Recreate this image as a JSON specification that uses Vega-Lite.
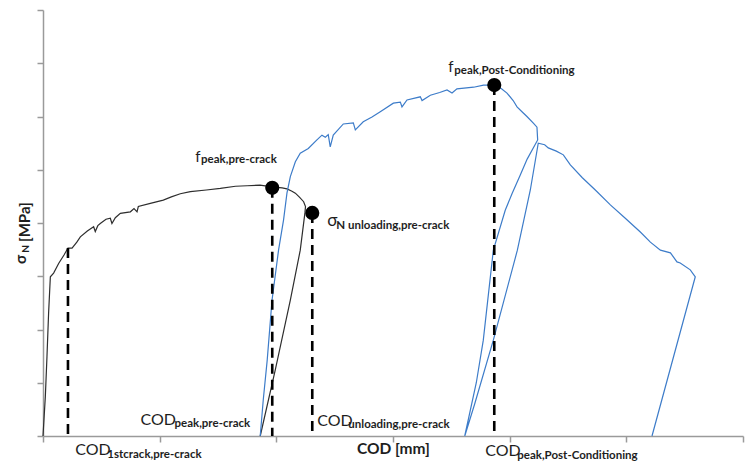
{
  "$schema": "https://vega.github.io/schema/vega-lite/v6.json",
  "width": 700,
  "height": 426,
  "autosize": {"type": "none"},
  "padding": {"left": 43, "top": 10, "right": 4, "bottom": 37},
  "background": "white",
  "config": {"view": {"stroke": null}, "font": "Lato"},
  "datasets": {
    "curves": [
      {"series": "pre-crack", "i": 0, "cod": 0, "sigma": 0},
      {"series": "pre-crack", "i": 1, "cod": 0.020, "sigma": 0.74},
      {"series": "pre-crack", "i": 2, "cod": 0.034, "sigma": 1.49},
      {"series": "pre-crack", "i": 3, "cod": 0.048, "sigma": 2.31},
      {"series": "pre-crack", "i": 4, "cod": 0.063, "sigma": 2.99},
      {"series": "pre-crack", "i": 5, "cod": 0.091, "sigma": 3.06},
      {"series": "pre-crack", "i": 6, "cod": 0.134, "sigma": 3.24},
      {"series": "pre-crack", "i": 7, "cod": 0.180, "sigma": 3.40},
      {"series": "pre-crack", "i": 8, "cod": 0.214, "sigma": 3.53},
      {"series": "pre-crack", "i": 9, "cod": 0.249, "sigma": 3.53},
      {"series": "pre-crack", "i": 10, "cod": 0.290, "sigma": 3.64},
      {"series": "pre-crack", "i": 11, "cod": 0.320, "sigma": 3.74},
      {"series": "pre-crack", "i": 12, "cod": 0.380, "sigma": 3.85},
      {"series": "pre-crack", "i": 13, "cod": 0.434, "sigma": 3.93},
      {"series": "pre-crack", "i": 14, "cod": 0.448, "sigma": 3.84},
      {"series": "pre-crack", "i": 15, "cod": 0.470, "sigma": 3.95},
      {"series": "pre-crack", "i": 16, "cod": 0.491, "sigma": 3.99},
      {"series": "pre-crack", "i": 17, "cod": 0.540, "sigma": 4.07},
      {"series": "pre-crack", "i": 18, "cod": 0.577, "sigma": 4.09},
      {"series": "pre-crack", "i": 19, "cod": 0.591, "sigma": 3.99},
      {"series": "pre-crack", "i": 20, "cod": 0.620, "sigma": 4.10},
      {"series": "pre-crack", "i": 21, "cod": 0.663, "sigma": 4.18},
      {"series": "pre-crack", "i": 22, "cod": 0.749, "sigma": 4.21},
      {"series": "pre-crack", "i": 23, "cod": 0.780, "sigma": 4.27},
      {"series": "pre-crack", "i": 24, "cod": 0.806, "sigma": 4.21},
      {"series": "pre-crack", "i": 25, "cod": 0.817, "sigma": 4.31},
      {"series": "pre-crack", "i": 26, "cod": 0.920, "sigma": 4.37},
      {"series": "pre-crack", "i": 27, "cod": 1.031, "sigma": 4.43},
      {"series": "pre-crack", "i": 28, "cod": 1.100, "sigma": 4.49},
      {"series": "pre-crack", "i": 29, "cod": 1.177, "sigma": 4.55},
      {"series": "pre-crack", "i": 30, "cod": 1.263, "sigma": 4.59},
      {"series": "pre-crack", "i": 31, "cod": 1.400, "sigma": 4.62},
      {"series": "pre-crack", "i": 32, "cod": 1.520, "sigma": 4.65},
      {"series": "pre-crack", "i": 33, "cod": 1.650, "sigma": 4.69},
      {"series": "pre-crack", "i": 34, "cod": 1.749, "sigma": 4.70},
      {"series": "pre-crack", "i": 35, "cod": 1.860, "sigma": 4.71},
      {"series": "pre-crack", "i": 36, "cod": 1.965, "sigma": 4.68},
      {"series": "pre-crack", "i": 37, "cod": 2.050, "sigma": 4.66},
      {"series": "pre-crack", "i": 38, "cod": 2.091, "sigma": 4.64},
      {"series": "pre-crack", "i": 39, "cod": 2.130, "sigma": 4.60},
      {"series": "pre-crack", "i": 40, "cod": 2.163, "sigma": 4.56},
      {"series": "pre-crack", "i": 41, "cod": 2.200, "sigma": 4.48},
      {"series": "pre-crack", "i": 42, "cod": 2.234, "sigma": 4.40},
      {"series": "pre-crack", "i": 43, "cod": 2.250, "sigma": 4.31},
      {"series": "pre-crack", "i": 44, "cod": 2.245, "sigma": 4.19},
      {"series": "pre-crack", "i": 45, "cod": 2.205, "sigma": 3.49},
      {"series": "pre-crack", "i": 46, "cod": 2.120, "sigma": 2.55},
      {"series": "pre-crack", "i": 47, "cod": 1.991, "sigma": 1.24},
      {"series": "pre-crack", "i": 48, "cod": 1.862, "sigma": 0},
      {"series": "post-conditioning", "i": 0, "cod": 1.862, "sigma": 0},
      {"series": "post-conditioning", "i": 1, "cod": 1.888, "sigma": 0.68},
      {"series": "post-conditioning", "i": 2, "cod": 1.922, "sigma": 1.43},
      {"series": "post-conditioning", "i": 3, "cod": 1.963, "sigma": 2.55},
      {"series": "post-conditioning", "i": 4, "cod": 2.019, "sigma": 3.49},
      {"series": "post-conditioning", "i": 5, "cod": 2.062, "sigma": 4.06},
      {"series": "post-conditioning", "i": 6, "cod": 2.091, "sigma": 4.56},
      {"series": "post-conditioning", "i": 7, "cod": 2.120, "sigma": 4.87},
      {"series": "post-conditioning", "i": 8, "cod": 2.163, "sigma": 5.15},
      {"series": "post-conditioning", "i": 9, "cod": 2.205, "sigma": 5.31},
      {"series": "post-conditioning", "i": 10, "cod": 2.274, "sigma": 5.40},
      {"series": "post-conditioning", "i": 11, "cod": 2.348, "sigma": 5.56},
      {"series": "post-conditioning", "i": 12, "cod": 2.391, "sigma": 5.65},
      {"series": "post-conditioning", "i": 13, "cod": 2.420, "sigma": 5.61},
      {"series": "post-conditioning", "i": 14, "cod": 2.445, "sigma": 5.66},
      {"series": "post-conditioning", "i": 15, "cod": 2.462, "sigma": 5.43},
      {"series": "post-conditioning", "i": 16, "cod": 2.488, "sigma": 5.65},
      {"series": "post-conditioning", "i": 17, "cod": 2.574, "sigma": 5.86},
      {"series": "post-conditioning", "i": 18, "cod": 2.660, "sigma": 5.88},
      {"series": "post-conditioning", "i": 19, "cod": 2.677, "sigma": 5.75},
      {"series": "post-conditioning", "i": 20, "cod": 2.745, "sigma": 5.90},
      {"series": "post-conditioning", "i": 21, "cod": 2.820, "sigma": 5.99},
      {"series": "post-conditioning", "i": 22, "cod": 2.891, "sigma": 6.09},
      {"series": "post-conditioning", "i": 23, "cod": 3.003, "sigma": 6.25},
      {"series": "post-conditioning", "i": 24, "cod": 3.063, "sigma": 6.27},
      {"series": "post-conditioning", "i": 25, "cod": 3.077, "sigma": 6.18},
      {"series": "post-conditioning", "i": 26, "cod": 3.120, "sigma": 6.31},
      {"series": "post-conditioning", "i": 27, "cod": 3.234, "sigma": 6.37},
      {"series": "post-conditioning", "i": 28, "cod": 3.249, "sigma": 6.30},
      {"series": "post-conditioning", "i": 29, "cod": 3.320, "sigma": 6.40},
      {"series": "post-conditioning", "i": 30, "cod": 3.400, "sigma": 6.45},
      {"series": "post-conditioning", "i": 31, "cod": 3.463, "sigma": 6.50},
      {"series": "post-conditioning", "i": 32, "cod": 3.506, "sigma": 6.44},
      {"series": "post-conditioning", "i": 33, "cod": 3.548, "sigma": 6.52},
      {"series": "post-conditioning", "i": 34, "cod": 3.691, "sigma": 6.55},
      {"series": "post-conditioning", "i": 35, "cod": 3.776, "sigma": 6.59},
      {"series": "post-conditioning", "i": 36, "cod": 3.868, "sigma": 6.59},
      {"series": "post-conditioning", "i": 37, "cod": 3.930, "sigma": 6.52},
      {"series": "post-conditioning", "i": 38, "cod": 3.977, "sigma": 6.44},
      {"series": "post-conditioning", "i": 39, "cod": 4.030, "sigma": 6.30},
      {"series": "post-conditioning", "i": 40, "cod": 4.063, "sigma": 6.18},
      {"series": "post-conditioning", "i": 41, "cod": 4.110, "sigma": 6.08},
      {"series": "post-conditioning", "i": 42, "cod": 4.148, "sigma": 6.00},
      {"series": "post-conditioning", "i": 43, "cod": 4.205, "sigma": 5.87},
      {"series": "post-conditioning", "i": 44, "cod": 4.234, "sigma": 5.80},
      {"series": "post-conditioning", "i": 45, "cod": 4.240, "sigma": 5.56},
      {"series": "post-conditioning", "i": 46, "cod": 4.150, "sigma": 5.20},
      {"series": "post-conditioning", "i": 47, "cod": 4.091, "sigma": 4.90},
      {"series": "post-conditioning", "i": 48, "cod": 4.020, "sigma": 4.55},
      {"series": "post-conditioning", "i": 49, "cod": 3.962, "sigma": 4.24},
      {"series": "post-conditioning", "i": 50, "cod": 3.860, "sigma": 3.49},
      {"series": "post-conditioning", "i": 51, "cod": 3.774, "sigma": 1.80},
      {"series": "post-conditioning", "i": 52, "cod": 3.714, "sigma": 1.00},
      {"series": "post-conditioning", "i": 53, "cod": 3.615, "sigma": 0},
      {"series": "post-conditioning", "i": 54, "cod": 3.700, "sigma": 0.60},
      {"series": "post-conditioning", "i": 55, "cod": 3.860, "sigma": 1.80},
      {"series": "post-conditioning", "i": 56, "cod": 4.066, "sigma": 3.49},
      {"series": "post-conditioning", "i": 57, "cod": 4.177, "sigma": 4.62},
      {"series": "post-conditioning", "i": 58, "cod": 4.245, "sigma": 5.50},
      {"series": "post-conditioning", "i": 59, "cod": 4.300, "sigma": 5.47},
      {"series": "post-conditioning", "i": 60, "cod": 4.331, "sigma": 5.41},
      {"series": "post-conditioning", "i": 61, "cod": 4.400, "sigma": 5.35},
      {"series": "post-conditioning", "i": 62, "cod": 4.460, "sigma": 5.28},
      {"series": "post-conditioning", "i": 63, "cod": 4.520, "sigma": 5.09},
      {"series": "post-conditioning", "i": 64, "cod": 4.623, "sigma": 4.85},
      {"series": "post-conditioning", "i": 65, "cod": 4.734, "sigma": 4.62},
      {"series": "post-conditioning", "i": 66, "cod": 4.863, "sigma": 4.34},
      {"series": "post-conditioning", "i": 67, "cod": 4.991, "sigma": 4.09},
      {"series": "post-conditioning", "i": 68, "cod": 5.120, "sigma": 3.83},
      {"series": "post-conditioning", "i": 69, "cod": 5.206, "sigma": 3.64},
      {"series": "post-conditioning", "i": 70, "cod": 5.292, "sigma": 3.49},
      {"series": "post-conditioning", "i": 71, "cod": 5.378, "sigma": 3.44},
      {"series": "post-conditioning", "i": 72, "cod": 5.434, "sigma": 3.27},
      {"series": "post-conditioning", "i": 73, "cod": 5.462, "sigma": 3.25},
      {"series": "post-conditioning", "i": 74, "cod": 5.548, "sigma": 3.12},
      {"series": "post-conditioning", "i": 75, "cod": 5.591, "sigma": 2.99},
      {"series": "post-conditioning", "i": 76, "cod": 5.220, "sigma": 0}
    ],
    "markers": [
      {"name": "COD 1st crack, pre-crack", "dot": false, "cod": 0.214, "sigma": 3.53},
      {"name": "f peak, pre-crack", "dot": true, "cod": 1.965, "sigma": 4.66},
      {"name": "sigma N unloading, pre-crack", "dot": true, "cod": 2.308, "sigma": 4.19},
      {"name": "f peak, post-conditioning", "dot": true, "cod": 3.868, "sigma": 6.59}
    ],
    "labels": [
      {"role": "symbol", "text": "f", "cod": 1.305, "sigma": 5.146},
      {"role": "sub", "text": "peak,pre-crack", "cod": 1.355, "sigma": 5.127},
      {"role": "sigma", "text": "σ", "cod": 2.437, "sigma": 3.944},
      {"role": "sub", "text": "N unloading,pre-crack", "cod": 2.514, "sigma": 3.887},
      {"role": "symbol", "text": "f", "cod": 3.474, "sigma": 6.836},
      {"role": "sub", "text": "peak,Post-Conditioning", "cod": 3.525, "sigma": 6.798},
      {"role": "cod", "text": "COD", "cod": 0.835, "sigma": 0.207},
      {"role": "sub", "text": "peak,pre-crack", "cod": 1.127, "sigma": 0.169},
      {"role": "cod", "text": "COD", "cod": 0.277, "sigma": -0.357},
      {"role": "sub", "text": "1stcrack,pre-crack", "cod": 0.551, "sigma": -0.413},
      {"role": "cod", "text": "COD", "cod": 2.351, "sigma": 0.188},
      {"role": "sub", "text": "unloading,pre-crack", "cod": 2.617, "sigma": 0.150},
      {"role": "cod", "text": "COD", "cod": 3.791, "sigma": -0.376},
      {"role": "sub", "text": "peak,Post-Conditioning", "cod": 4.065, "sigma": -0.432},
      {"role": "ytitle", "text": "σ", "cod": -0.150, "sigma": 3.230},
      {"role": "ytitle-sub", "text": "N", "cod": -0.118, "sigma": 3.440},
      {"role": "ytitle", "text": "[MPa]", "cod": -0.109, "sigma": 3.643}
    ]
  },
  "encoding": {
    "x": {
      "field": "cod",
      "type": "quantitative",
      "scale": {"domain": [0, 6], "nice": false, "zero": false},
      "axis": {
        "title": "COD [mm]",
        "values": [0, 1, 2, 3, 4, 5, 6],
        "labels": false,
        "grid": false,
        "domainColor": "#9a9a9a",
        "domainWidth": 1.5,
        "tickColor": "#9a9a9a",
        "tickWidth": 1.5,
        "tickSize": 6,
        "titleFont": "Lato",
        "titleFontSize": 15.5,
        "titleFontWeight": "bold",
        "titleColor": "#1e1e1e",
        "titlePadding": -1
      }
    },
    "y": {
      "field": "sigma",
      "type": "quantitative",
      "scale": {"domain": [0, 8], "nice": false, "zero": false},
      "axis": {
        "title": null,
        "values": [0, 1, 2, 3, 4, 5, 6, 7, 8],
        "labels": false,
        "grid": false,
        "domainColor": "#9a9a9a",
        "domainWidth": 1.5,
        "tickColor": "#9a9a9a",
        "tickWidth": 1.5,
        "tickSize": 6
      }
    }
  },
  "layer": [
    {
      "data": {"name": "curves"},
      "mark": {"type": "line", "strokeWidth": 1.2, "clip": false},
      "encoding": {
        "color": {
          "field": "series",
          "type": "nominal",
          "scale": {"domain": ["pre-crack", "post-conditioning"], "range": ["#2e2e2e", "#3d7cc9"]},
          "legend": null
        },
        "order": {"field": "i", "type": "quantitative"}
      }
    },
    {
      "data": {"name": "markers"},
      "mark": {"type": "rule", "color": "#000000", "strokeWidth": 2.6, "strokeDash": [10, 6]},
      "encoding": {"y2": {"datum": 0}}
    },
    {
      "data": {"name": "markers"},
      "transform": [{"filter": "datum.dot"}],
      "mark": {"type": "point", "filled": true, "shape": "circle", "size": 200, "color": "#000000", "opacity": 1}
    },
    {
      "data": {"name": "labels"},
      "transform": [{"filter": "datum.role === 'symbol'"}],
      "mark": {"type": "text", "align": "left", "baseline": "alphabetic", "font": "Lato", "fontSize": 15, "color": "#1e1e1e"},
      "encoding": {"text": {"field": "text"}}
    },
    {
      "data": {"name": "labels"},
      "transform": [{"filter": "datum.role === 'sigma'"}],
      "mark": {"type": "text", "align": "left", "baseline": "alphabetic", "font": "Lato", "fontSize": 17, "color": "#1e1e1e"},
      "encoding": {"text": {"field": "text"}}
    },
    {
      "data": {"name": "labels"},
      "transform": [{"filter": "datum.role === 'cod'"}],
      "mark": {"type": "text", "align": "left", "baseline": "alphabetic", "font": "Lato", "fontSize": 16, "color": "#1e1e1e"},
      "encoding": {"text": {"field": "text"}}
    },
    {
      "data": {"name": "labels"},
      "transform": [{"filter": "datum.role === 'sub'"}],
      "mark": {"type": "text", "align": "left", "baseline": "alphabetic", "font": "Lato", "fontSize": 11.5, "fontWeight": "bold", "color": "#1e1e1e"},
      "encoding": {"text": {"field": "text"}}
    },
    {
      "data": {"name": "labels"},
      "transform": [{"filter": "datum.role === 'ytitle'"}],
      "mark": {"type": "text", "align": "left", "baseline": "alphabetic", "angle": 270, "font": "Lato", "fontSize": 15, "fontWeight": "bold", "color": "#1e1e1e"},
      "encoding": {"text": {"field": "text"}}
    },
    {
      "data": {"name": "labels"},
      "transform": [{"filter": "datum.role === 'ytitle-sub'"}],
      "mark": {"type": "text", "align": "left", "baseline": "alphabetic", "angle": 270, "font": "Lato", "fontSize": 10, "fontWeight": "bold", "color": "#1e1e1e"},
      "encoding": {"text": {"field": "text"}}
    }
  ]
}
